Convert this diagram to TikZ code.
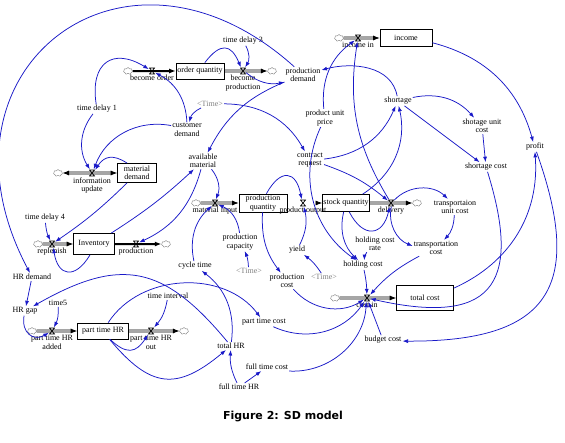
\documentclass[tikz,border=0pt]{standalone}
\usepackage{fontspec}
\setmainfont{Liberation Serif}
\newfontfamily\capfont{DejaVu Sans}
\usepackage{xcolor}
\usetikzlibrary{arrows.meta,shapes.symbols,backgrounds}
\definecolor{linkblue}{RGB}{25,25,200}

\begin{document}
\begin{tikzpicture}[x=1pt, y=-1pt,
    every node/.style={font=\fontsize{8}{8.5}\selectfont, inner sep=1pt, align=center},
    stock/.style={draw, fill=white, line width=0.7pt, minimum width=48pt, minimum height=17pt},
    valve/.style={minimum width=6pt, minimum height=7pt, inner sep=0pt,
      path picture={\draw[line width=0.7pt] ([shift={(0.5pt,-0.5pt)}]path picture bounding box.north west)
        -- ([shift={(-0.5pt,-0.5pt)}]path picture bounding box.north east)
        -- ([shift={(0.5pt,0.5pt)}]path picture bounding box.south west)
        -- ([shift={(-0.5pt,0.5pt)}]path picture bounding box.south east) -- cycle;}},
    vlbl/.style={inner sep=0.5pt},
    sink/.style={shape=cloud, cloud puffs=7, aspect=1.4, draw=gray, minimum width=9pt, minimum height=7pt, inner sep=0pt},
    ghost/.style={text=gray},
    pipe/.style={draw, double=white, double distance=1.3pt, line width=0.7pt, -{Latex[length=6.5pt,width=5pt]}},
    solidpipe/.style={draw, line width=2pt, -{Latex[length=6.5pt,width=5pt]}},
    link/.style={draw=linkblue, line width=0.75pt, -{Latex[length=5.5pt,width=4pt]}}]
  \useasboundingbox (0,0) rectangle (565,442);

  \node[stock, minimum height=16pt] (oq) at (200,71) {order quantity};
  \node[stock, minimum width=52pt] (inc) at (406,38) {income};
  \node[stock, minimum width=39pt, minimum height=19pt] (md) at (137,173) {material\\demand};
  \node[stock, minimum width=41pt, minimum height=21pt] (inv) at (94,244) {Inventory};
  \node[stock, minimum height=18pt] (pq) at (263,203) {production\\quantity};
  \node[stock, minimum width=45pt] (sq) at (346,203) {stock quantity};
  \node[stock, minimum width=51pt, minimum height=16pt] (pth) at (103,331) {part time HR};
  \node[stock, minimum width=57pt, minimum height=25pt] (tc) at (425,298) {total cost};

  \node[valve, label={[vlbl]below:become order}] (bo) at (152,71) {};
  \node[valve, label={[vlbl]below:{become\\production}}] (bp) at (243,71) {};
  \node[valve, label={[vlbl]below:income in}] (ii) at (358,38) {};
  \node[valve, label={[vlbl]below:{information\\update}}] (iu) at (92,173) {};
  \node[valve, label={[vlbl]below:replenish}] (rp) at (52,244) {};
  \node[valve, label={[vlbl]below:production}] (pr) at (136,244) {};
  \node[valve, label={[vlbl]below:material input}] (mi) at (215,203) {};
  \node[valve, label={[vlbl]below:product output}] (po) at (303,203) {};
  \node[valve, label={[vlbl]below:delivery}] (dl) at (391,203) {};
  \node[valve, label={[vlbl]below:{part time HR\\added}}] (pa) at (52,331) {};
  \node[valve, label={[vlbl]below:{part time HR\\out}}] (pt) at (151,331) {};
  \node[valve, label={[vlbl]below:cost in}] (ci) at (367,298) {};

  \node[sink] (c1) at (128,71) {};
  \node[sink] (c2) at (272,71) {};
  \node[sink] (c3) at (339,38) {};
  \node[sink] (c4) at (58,173) {};
  \node[sink] (c5) at (38,244) {};
  \node[sink] (c6) at (166,244) {};
  \node[sink] (c7) at (196,203) {};
  \node[sink] (c8) at (417,203) {};
  \node[sink] (c9) at (32,331) {};
  \node[sink] (c10) at (184,331) {};
  \node[sink] (c11) at (335,298) {};

  \node (td3) at (243,41) {time delay 3};
  \node (td1) at (97,109) {time delay 1};
  \node[ghost] (tma) at (210,104) {<Time>};
  \node (cd) at (187,130) {customer\\demand};
  \node (pd) at (303,75) {production\\demand};
  \node (sh) at (398,101) {shortage};
  \node (pup) at (325,118) {product unit\\price};
  \node (suc) at (482,126) {shotage unit\\cost};
  \node (pf) at (535,147) {profit};
  \node (sc) at (486,167) {shortage cost};
  \node (cr) at (310,160) {contract\\request};
  \node (tuc) at (455,207) {transportaion\\unit cost};
  \node (trc) at (436,248) {transportation\\cost};
  \node (hcr) at (375,244) {holding cost\\rate};
  \node (hc) at (363,265) {holding cost};
  \node (yd) at (297,250) {yield};
  \node (pc) at (287,281) {production\\cost};
  \node[ghost] (tmb) at (324,277) {<Time>};
  \node (td4) at (45,218) {time delay 4};
  \node (am) at (203,161) {available\\material};
  \node (pcap) at (240,242) {production\\capacity};
  \node[ghost] (tmc) at (249,271) {<Time>};
  \node (ct) at (195,266) {cycle time};
  \node (hd) at (32,277) {HR demand};
  \node (hg) at (25,311) {HR gap};
  \node (tf) at (58,303) {time5};
  \node (ti) at (168,296) {time interval};
  \node (ptc) at (264,322) {part time cost};
  \node (th) at (231,346) {total HR};
  \node (ftc) at (267,367) {full time cost};
  \node (fth) at (239,387) {full time HR};
  \node (bc) at (383,340) {budget cost};
  \node[font=\capfont\bfseries\fontsize{11}{13}\selectfont] (cap) at (283,417) {Figure 2: SD model};

  \begin{scope}[on background layer]
    \fill[white] (0,0) rectangle (565,442);
    \foreach \x/\y in {c1/oq,inv/c6}
      \draw[solidpipe] (\x) -- (\y);
    \foreach \x/\y in {oq/c2,c3/inc,c5/inv,c7/pq,pq/sq,sq/c8,c9/pth,pth/c10,c11/tc}
      \draw[pipe] (\x) -- (\y);
    \draw[pipe, {Latex[length=6.5pt,width=5pt]}-{Latex[length=6.5pt,width=5pt]}] (md) -- (c4);
  \end{scope}

  \foreach \x/\y/\b/\l in {td3/bp/30/1, oq/bp/60/1.8, bp/pd/-25/1, td1/bo/65/1.7, cd/bo/-30/1,
      tma/cd/-25/1, td1/iu/-35/1, cd/iu/-40/1, md/iu/-45/1.3, md/rp/5/1, td4/rp/-10/1, inv/rp/70/2,
      inv/am/-5/1, am/pr/25/1, am/mi/30/1, pd/am/-20/1, tma/cr/30/1, pup/ii/30/1, dl/ii/20/1,
      cr/sh/-30/1, sq/sh/-35/1, cr/dl/10/1, sh/suc/30/1, sh/sc/0/1, suc/sc/0/1, inc/pf/30/1,
      tc/pf/-35/1, dl/tuc/45/1, dl/trc/-40/1, tuc/trc/20/1, sq/dl/-70/1.9, sq/hc/-30/1, pup/hc/-40/1,
      hcr/hc/-15/1, hc/ci/5/1, trc/ci/-10/1, pc/ci/-40/1, ptc/ci/-40/1, ftc/ci/-45/1, bc/ci/0/1,
      pq/po/70/2.1, yd/po/-20/1, tmb/yd/-10/1, pq/pc/-20/1, pcap/mi/-30/1, tmc/pcap/-10/1,
      ct/mi/30/1, th/ct/-30/1, hd/hg/0/1, tf/pa/15/1, hg/pa/-65/1.5, pth/pt/-50/1.5, ti/pt/15/1,
      pth/th/-45/1.4, pth/ptc/55/1, fth/th/15/1, fth/ftc/0/1, pd/hd/-80/1.75, sc/ci/60/1.8,
      pf/bc/55/1.6, th/hg/-40/1.3}
    \draw[link] (\x) to[bend left=\b, looseness=\l] (\y);
  \draw[link] (sh) to[out=100, in=15] (pd);
\end{tikzpicture}
\end{document}
